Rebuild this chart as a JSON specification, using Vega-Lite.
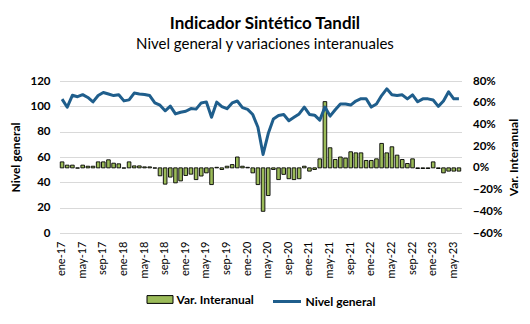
{
  "$schema": "https://vega.github.io/schema/vega-lite/v6.json",
  "width": 402,
  "height": 152,
  "autosize": {"type": "none"},
  "padding": {"left": 59.5, "top": 81, "right": 68.5, "bottom": 91},
  "background": "white",
  "title": {
    "text": "Indicador Sintético Tandil",
    "subtitle": "Nivel general y variaciones interanuales",
    "anchor": "middle",
    "frame": "bounds",
    "font": "Lato",
    "fontSize": 17,
    "fontWeight": "bold",
    "color": "#000000",
    "subtitleFont": "Lato",
    "subtitleFontSize": 15,
    "subtitleColor": "#000000",
    "subtitlePadding": 4,
    "offset": 22
  },
  "data": {
    "values": [
      {"mes": "ene-17", "nivel": 105.7, "var": 0.055},
      {"mes": "feb-17", "nivel": 99.3, "var": 0.025},
      {"mes": "mar-17", "nivel": 108.7, "var": 0.025},
      {"mes": "abr-17", "nivel": 107.6, "var": -0.003},
      {"mes": "may-17", "nivel": 109.2, "var": 0.025},
      {"mes": "jun-17", "nivel": 107.0, "var": 0.015},
      {"mes": "jul-17", "nivel": 103.5, "var": 0.015},
      {"mes": "ago-17", "nivel": 108.5, "var": 0.055},
      {"mes": "sep-17", "nivel": 110.9, "var": 0.055},
      {"mes": "oct-17", "nivel": 109.7, "var": 0.074},
      {"mes": "nov-17", "nivel": 108.5, "var": 0.043},
      {"mes": "dic-17", "nivel": 109.1, "var": 0.037},
      {"mes": "ene-18", "nivel": 104.3, "var": -0.003},
      {"mes": "feb-18", "nivel": 105.1, "var": 0.055},
      {"mes": "mar-18", "nivel": 110.5, "var": 0.018},
      {"mes": "abr-18", "nivel": 109.8, "var": 0.018},
      {"mes": "may-18", "nivel": 109.4, "var": 0.009},
      {"mes": "jun-18", "nivel": 108.5, "var": 0.009},
      {"mes": "jul-18", "nivel": 102.8, "var": -0.003},
      {"mes": "ago-18", "nivel": 100.9, "var": -0.073},
      {"mes": "sep-18", "nivel": 96.5, "var": -0.15},
      {"mes": "oct-18", "nivel": 100.2, "var": -0.085},
      {"mes": "nov-18", "nivel": 94.0, "var": -0.138},
      {"mes": "dic-18", "nivel": 95.3, "var": -0.12},
      {"mes": "ene-19", "nivel": 96.1, "var": -0.07},
      {"mes": "feb-19", "nivel": 98.2, "var": -0.058},
      {"mes": "mar-19", "nivel": 97.8, "var": -0.108},
      {"mes": "abr-19", "nivel": 102.7, "var": -0.075},
      {"mes": "may-19", "nivel": 103.5, "var": -0.046},
      {"mes": "jun-19", "nivel": 91.4, "var": -0.154},
      {"mes": "jul-19", "nivel": 103.3, "var": 0.005},
      {"mes": "ago-19", "nivel": 99.8, "var": -0.015},
      {"mes": "sep-19", "nivel": 98.1, "var": 0.015},
      {"mes": "oct-19", "nivel": 102.7, "var": 0.03},
      {"mes": "nov-19", "nivel": 104.2, "var": 0.1},
      {"mes": "dic-19", "nivel": 99.0, "var": 0.015},
      {"mes": "ene-20", "nivel": 97.6, "var": 0.005},
      {"mes": "feb-20", "nivel": 93.5, "var": -0.046},
      {"mes": "mar-20", "nivel": 83.5, "var": -0.154},
      {"mes": "abr-20", "nivel": 62.0, "var": -0.4},
      {"mes": "may-20", "nivel": 78.5, "var": -0.255},
      {"mes": "jun-20", "nivel": 90.0, "var": -0.015},
      {"mes": "jul-20", "nivel": 92.8, "var": -0.108},
      {"mes": "ago-20", "nivel": 93.5, "var": -0.06},
      {"mes": "sep-20", "nivel": 88.6, "var": -0.1},
      {"mes": "oct-20", "nivel": 91.3, "var": -0.108},
      {"mes": "nov-20", "nivel": 94.0, "var": -0.1},
      {"mes": "dic-20", "nivel": 99.4, "var": 0.015},
      {"mes": "ene-21", "nivel": 93.6, "var": -0.03},
      {"mes": "feb-21", "nivel": 93.0, "var": -0.015},
      {"mes": "mar-21", "nivel": 89.1, "var": 0.083},
      {"mes": "abr-21", "nivel": 99.4, "var": 0.61},
      {"mes": "may-21", "nivel": 92.3, "var": 0.185},
      {"mes": "jun-21", "nivel": 97.3, "var": 0.077},
      {"mes": "jul-21", "nivel": 101.9, "var": 0.1},
      {"mes": "ago-21", "nivel": 101.9, "var": 0.09},
      {"mes": "sep-21", "nivel": 101.0, "var": 0.148},
      {"mes": "oct-21", "nivel": 104.2, "var": 0.138},
      {"mes": "nov-21", "nivel": 106.0, "var": 0.138},
      {"mes": "dic-21", "nivel": 106.0, "var": 0.068},
      {"mes": "ene-22", "nivel": 99.4, "var": 0.068},
      {"mes": "feb-22", "nivel": 101.9, "var": 0.083},
      {"mes": "mar-22", "nivel": 108.5, "var": 0.225},
      {"mes": "abr-22", "nivel": 113.8, "var": 0.138},
      {"mes": "may-22", "nivel": 109.1, "var": 0.194},
      {"mes": "jun-22", "nivel": 108.5, "var": 0.117},
      {"mes": "jul-22", "nivel": 109.1, "var": 0.077},
      {"mes": "ago-22", "nivel": 105.9, "var": 0.04},
      {"mes": "sep-22", "nivel": 109.1, "var": 0.083},
      {"mes": "oct-22", "nivel": 103.6, "var": -0.006},
      {"mes": "nov-22", "nivel": 105.9, "var": -0.006},
      {"mes": "dic-22", "nivel": 105.9, "var": -0.006},
      {"mes": "ene-23", "nivel": 105.0, "var": 0.055},
      {"mes": "feb-23", "nivel": 100.0, "var": -0.006},
      {"mes": "mar-23", "nivel": 104.2, "var": -0.046},
      {"mes": "abr-23", "nivel": 111.5, "var": -0.03},
      {"mes": "may-23", "nivel": 105.9, "var": -0.03},
      {"mes": "jun-23", "nivel": 105.9, "var": -0.03}
    ]
  },
  "encoding": {
    "x": {
      "field": "mes",
      "type": "ordinal",
      "sort": null,
      "scale": {"paddingInner": 0.3, "paddingOuter": 0.15},
      "axis": {
        "title": null,
        "values": ["ene-17","may-17","sep-17","ene-18","may-18","sep-18","ene-19","may-19","sep-19","ene-20","may-20","sep-20","ene-21","may-21","sep-21","ene-22","may-22","sep-22","ene-23","may-23"],
        "labelAngle": 270,
        "labelFont": "Lato",
        "labelFontSize": 11,
        "labelColor": "#000000",
        "labelPadding": 8,
        "ticks": false,
        "domain": false,
        "grid": false
      }
    }
  },
  "layer": [
    {
      "mark": {"type": "bar", "stroke": "#000000", "strokeWidth": 0.9},
      "encoding": {
        "y": {
          "field": "var",
          "type": "quantitative",
          "scale": {"domain": [-0.6, 0.8], "nice": false, "zero": false},
          "axis": {
            "orient": "right",
            "title": "Var. Interanual",
            "titleAngle": 270,
            "titleBaseline": "top",
            "values": [-0.6, -0.4, -0.2, 0, 0.2, 0.4, 0.6, 0.8],
            "format": ".0%",
            "grid": false,
            "ticks": false,
            "domain": false,
            "labelPadding": 11,
            "labelFont": "Lato",
            "labelFontSize": 11.5,
            "labelFontWeight": "bold",
            "labelColor": "#000000",
            "titleFont": "Lato",
            "titleFontSize": 12,
            "titleFontWeight": "bold",
            "titleColor": "#000000",
            "titlePadding": 7
          }
        },
        "fill": {
          "datum": "Var. Interanual",
          "type": "nominal",
          "scale": {"range": ["#9BBB59"]},
          "legend": {
            "title": null,
            "symbolType": "M-1,-0.3H1V0.3H-1Z",
            "symbolSize": 676,
            "symbolStrokeColor": "#000000",
            "symbolStrokeWidth": 1
          }
        }
      }
    },
    {
      "mark": {"type": "line", "strokeWidth": 3, "strokeJoin": "round"},
      "encoding": {
        "y": {
          "field": "nivel",
          "type": "quantitative",
          "scale": {"domain": [0, 120], "nice": false},
          "axis": {
            "orient": "left",
            "title": "Nivel general",
            "values": [0, 20, 40, 60, 80, 100, 120],
            "grid": true,
            "gridColor": "#D9D9D9",
            "gridWidth": 1,
            "ticks": false,
            "domain": false,
            "labelPadding": 9.5,
            "labelFont": "Lato",
            "labelFontSize": 11.5,
            "labelFontWeight": "bold",
            "labelColor": "#000000",
            "titleFont": "Lato",
            "titleFontSize": 12,
            "titleFontWeight": "bold",
            "titleColor": "#000000",
            "titlePadding": 7
          }
        },
        "stroke": {
          "datum": "Nivel general",
          "type": "nominal",
          "scale": {"range": ["#1F5E8C"]},
          "legend": {
            "title": null,
            "symbolType": "stroke",
            "symbolSize": 784,
            "symbolStrokeWidth": 3
          }
        }
      }
    }
  ],
  "resolve": {"scale": {"y": "independent"}},
  "config": {
    "view": {"stroke": null},
    "legend": {
      "orient": "bottom",
      "direction": "horizontal",
      "offset": 8,
      "labelFont": "Lato",
      "labelFontSize": 12,
      "labelFontWeight": "bold",
      "labelColor": "#000000",
      "labelOffset": 3,
      "layout": {"bottom": {"anchor": "middle", "direction": "horizontal", "margin": 17}}
    }
  }
}
